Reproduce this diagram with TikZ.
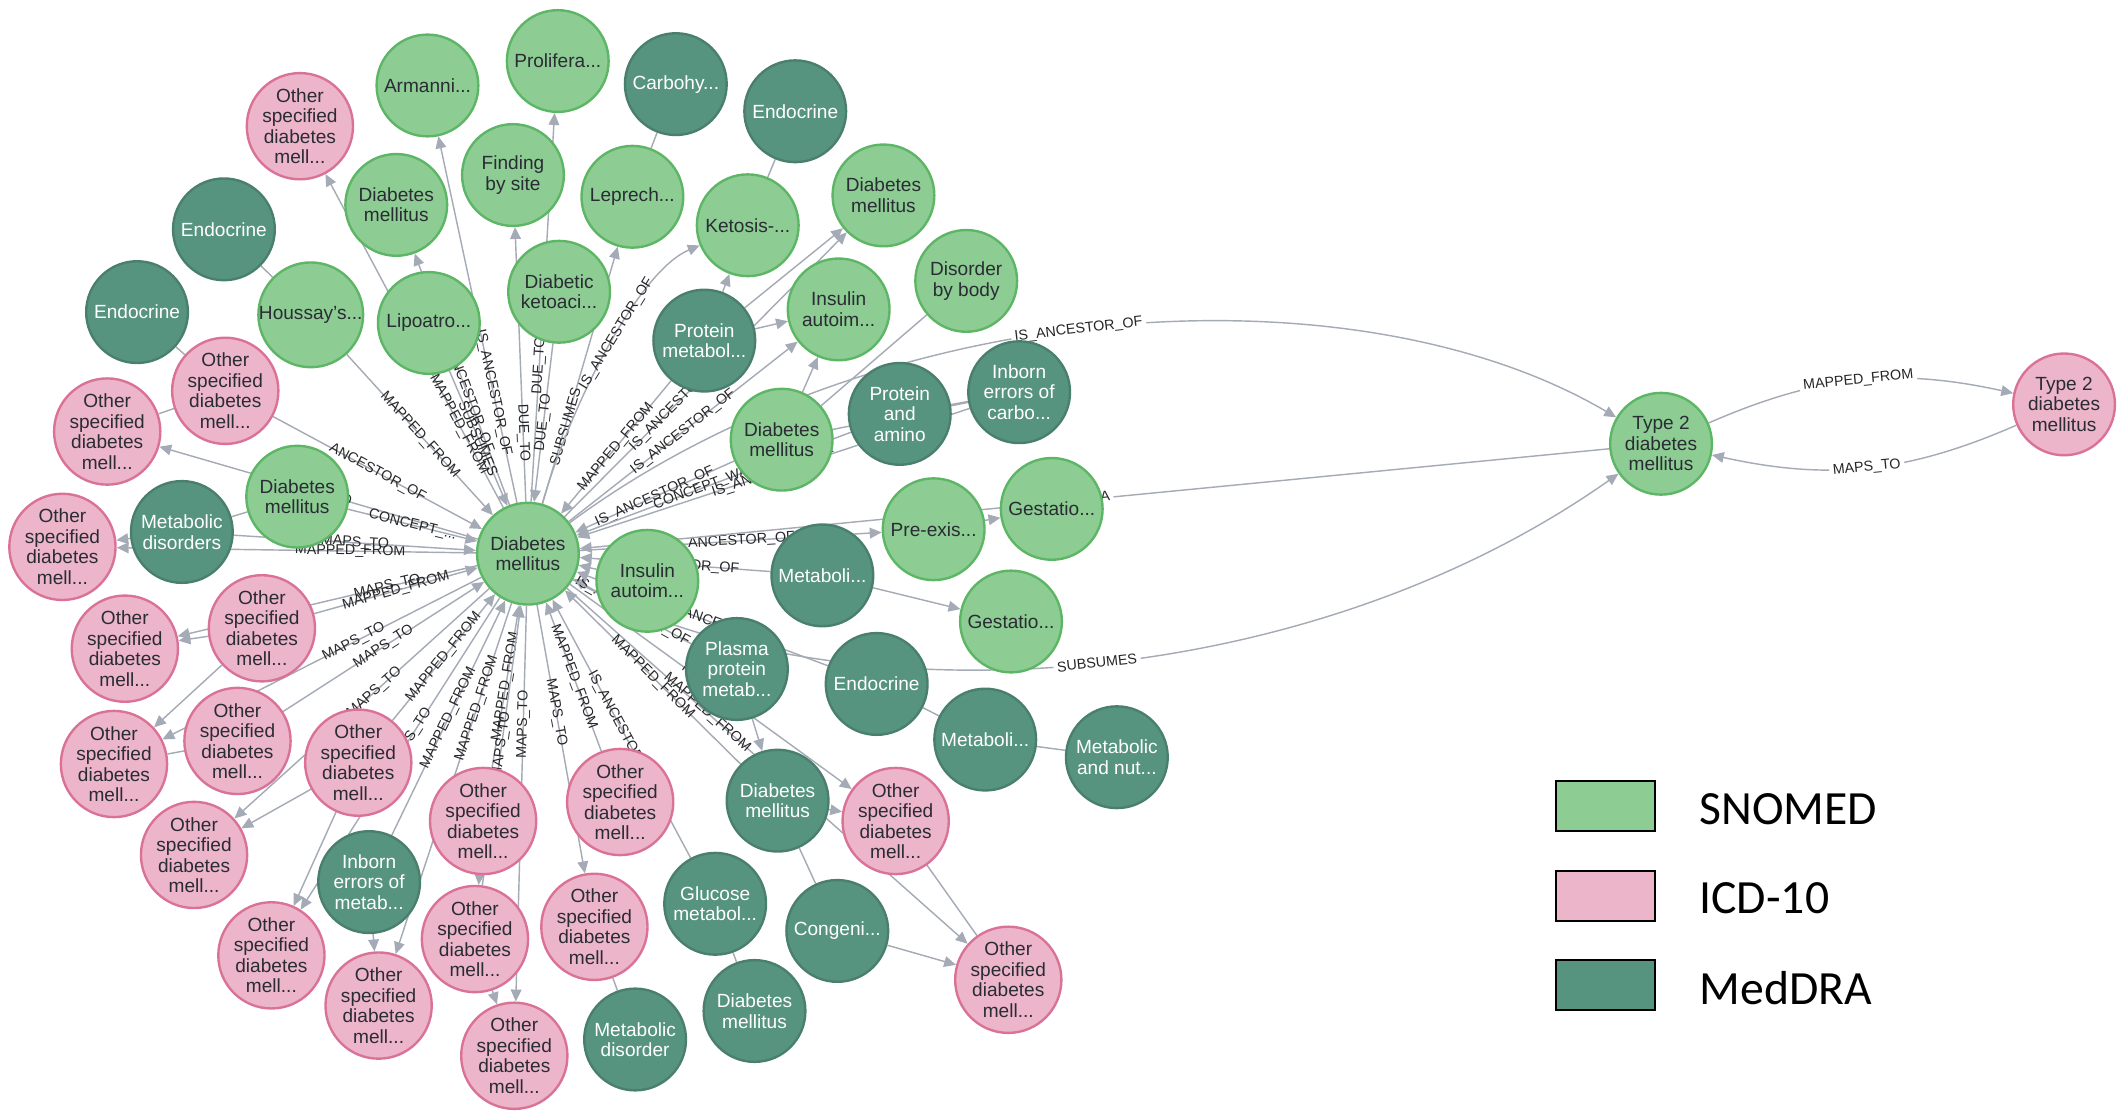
\documentclass[tikz,border=0pt]{standalone}
\usepackage{fontspec}
\setmainfont{Liberation Sans}
\newfontfamily\legendfont{Carlito}
\usetikzlibrary{arrows.meta}
\pgfdeclarelayer{background}
\pgfsetlayers{background,main}
\definecolor{snomedfill}{HTML}{8DCC93}
\definecolor{snomedline}{HTML}{5DB665}
\definecolor{icdfill}{HTML}{ECB5C9}
\definecolor{icdline}{HTML}{DA7298}
\definecolor{medfill}{HTML}{569480}
\definecolor{medline}{HTML}{4A7F6D}
\definecolor{edgegray}{HTML}{A5ABB6}
\definecolor{nodetext}{HTML}{2A2C34}
\begin{document}
\begin{tikzpicture}[x=0.02cm,y=-0.02cm,
  base/.style={circle, minimum size=1.5cm, inner sep=0pt, line width=1pt, align=center, font=\fontsize{8}{8.6}\selectfont},
  snomed/.style={base, draw=snomedline, fill=snomedfill, text=nodetext},
  icd/.style={base, draw=icdline, fill=icdfill, text=nodetext},
  meddra/.style={base, draw=medline, fill=medfill, text=white},
  edge/.style={draw=edgegray, line width=0.6pt},
  arr/.style={edge, -{Triangle[length=5pt,width=4.5pt]}},
  lbl/.style={font=\fontsize{6}{6}\selectfont, sloped, inner sep=0.5pt, text=black!85},
  wlbl/.style={lbl, fill=white, inner sep=1.5pt},
  legbox/.style={draw=black, line width=0.8pt, minimum width=1.46cm, minimum height=0.74cm, inner sep=0pt},
  legtext/.style={font=\legendfont\fontsize{20}{24}\selectfont, anchor=west, inner sep=0pt}
]
\useasboundingbox (0,0) rectangle (1560,820);
\def\osd{Other\\specified\\diabetes\\mell...}
% nodes
\node[icd] (n1) at (221,93) {\osd};
\node[snomed] (n2) at (315,63) {Armanni...};
\node[snomed] (n3) at (411,45) {Prolifera...};
\node[meddra] (n4) at (498,62) {Carbohy...};
\node[meddra] (n5) at (586,82) {Endocrine};
\node[snomed] (n6) at (292,151) {Diabetes\\mellitus};
\node[snomed] (n7) at (378,129) {Finding\\by site};
\node[snomed] (n8) at (466,145) {Leprech...};
\node[snomed] (n9) at (551,166) {Ketosis-...};
\node[snomed] (n10) at (651,144) {Diabetes\\mellitus};
\node[meddra] (n11) at (165,169) {Endocrine};
\node[meddra] (n12) at (101,230) {Endocrine};
\node[snomed] (n13) at (229,232) {Houssay's...};
\node[snomed] (n14) at (316,238) {Lipoatro...};
\node[snomed] (n15) at (412,215) {Diabetic\\ketoaci...};
\node[meddra] (n16) at (519,251) {Protein\\metabol...};
\node[snomed] (n17) at (618,228) {Insulin\\autoim...};
\node[snomed] (n18) at (712,207) {Disorder\\by body};
\node[icd] (n19) at (166,288) {\osd};
\node[icd] (n20) at (79,318) {\osd};
\node[snomed] (n21) at (576,324) {Diabetes\\mellitus};
\node[meddra] (n22) at (663,305) {Protein\\and\\amino};
\node[meddra] (n23) at (751,289) {Inborn\\errors of\\carbo...};
\node[snomed] (n24) at (219,366) {Diabetes\\mellitus};
\node[meddra] (n25) at (134,392) {Metabolic\\disorders};
\node[icd] (n26) at (46,403) {\osd};
\node[snomed] (C) at (389,408) {Diabetes\\mellitus};
\node[snomed] (n28) at (477,428) {Insulin\\autoim...};
\node[snomed] (n29) at (688,390) {Pre-exis...};
\node[snomed] (n30) at (775,375) {Gestatio...};
\node[meddra] (n31) at (606,424) {Metaboli...};
\node[snomed] (n32) at (745,458) {Gestatio...};
\node[icd] (n33) at (193,463) {\osd};
\node[icd] (n34) at (92,478) {\osd};
\node[meddra] (n35) at (543,493) {Plasma\\protein\\metab...};
\node[meddra] (n36) at (646,504) {Endocrine};
\node[icd] (n37) at (175,546) {\osd};
\node[icd] (n38) at (84,563) {\osd};
\node[icd] (n39) at (264,562) {\osd};
\node[meddra] (n40) at (726,545) {Metaboli...};
\node[meddra] (n41) at (823,558) {Metabolic\\and nut...};
\node[icd] (n42) at (143,630) {\osd};
\node[icd] (n43) at (457,591) {\osd};
\node[icd] (n44) at (356,605) {\osd};
\node[meddra] (n45) at (573,590) {Diabetes\\mellitus};
\node[icd] (n46) at (660,605) {\osd};
\node[meddra] (n47) at (272,650) {Inborn\\errors of\\metab...};
\node[meddra] (n48) at (527,666) {Glucose\\metabol...};
\node[meddra] (n49) at (617,686) {Congeni...};
\node[icd] (n50) at (200,704) {\osd};
\node[icd] (n51) at (350,692) {\osd};
\node[icd] (n52) at (438,683) {\osd};
\node[icd] (n53) at (743,722) {\osd};
\node[icd] (n54) at (279,741) {\osd};
\node[icd] (n55) at (379,778) {\osd};
\node[meddra] (n56) at (468,766) {Metabolic\\disorder};
\node[meddra] (n57) at (556,745) {Diabetes\\mellitus};
\node[snomed] (t2g) at (1224,327) {Type 2\\diabetes\\mellitus};
\node[icd] (t2p) at (1521,298) {Type 2\\diabetes\\mellitus};
% legend
\node[legbox, fill=snomedfill] (lg1) at (1183,594) {};
\node[legbox, fill=icdfill] (lg2) at (1183,660) {};
\node[legbox, fill=medfill] (lg3) at (1183,726) {};
\node[legtext] (lt1) at (1252,596) {SNOMED};
\node[legtext] (lt2) at (1252,662) {ICD-10};
\node[legtext] (lt3) at (1252,728) {MedDRA};
% edges
\begin{pgfonlayer}{background}
% center outward
\draw[arr] (C) -- node[lbl,pos=0.25]{MAPPED\_FROM} (n1);
\draw[arr] (C) -- node[lbl,pos=0.3]{IS\_ANCESTOR\_OF} (n2);
\draw[arr] (C) -- node[lbl,pos=0.35]{DUE\_TO} (n3);
\draw[arr] (C) -- node[lbl,pos=0.45]{IS\_ANCESTOR\_OF} (n6);
\draw[arr] (C) -- node[lbl,pos=0.25]{DUE\_TO} (n7);
\draw[arr] (C) -- node[lbl,pos=0.3]{SUBSUMES} (n8);
\draw[arr] (C) .. controls (420,300) and (470,200) .. node[lbl,pos=0.55]{IS\_ANCESTOR\_OF} (n9);
\draw[arr] (C) -- node[lbl,pos=0.4]{IS\_ANCESTOR\_OF} (n10);
\draw[arr] (C) -- node[lbl,pos=0.5]{IS\_ANCESTOR\_OF} (n17);
\draw[arr] (C) -- node[lbl,pos=0.5]{MAPS\_TO} (n20);
\draw[arr] (C) -- node[lbl,pos=0.35]{MAPPED\_FROM} (n26);
\draw[arr] (C) -- node[lbl,pos=0.3]{MAPS\_TO} (n34);
\draw[arr] (C) -- node[lbl,pos=0.4]{MAPS\_TO} (n38);
\draw[arr] (C) -- node[lbl,pos=0.45]{MAPS\_TO} (n42);
\draw[arr] (C) -- node[lbl,pos=0.45]{MAPS\_TO} (n50);
\draw[arr] (C) -- node[lbl,pos=0.5]{IS\_ANCESTOR\_OF} (n29);
\draw[arr] (C) -- node[lbl,pos=0.5]{MAPS\_TO} (n46);
\draw[arr] (C) -- node[lbl,pos=0.4]{MAPS\_TO} (n52);
\draw[arr] (C) -- node[lbl,pos=0.3]{MAPS\_TO} (n55);
\draw[arr] (C) -- node[lbl,pos=0.3]{MAPPED\_FROM} (n54);
\draw[arr] (C) -- node[lbl,pos=0.35]{MAPPED\_FROM} (n53);
% into center
\draw[arr] (n13) -- node[lbl]{MAPPED\_FROM} (C);
\draw[arr] (n14) -- node[lbl]{SUBSUMES} (C);
\draw[arr] (n15) -- node[lbl]{DUE\_TO} (C);
\draw[arr] (n16) -- node[lbl]{MAPPED\_FROM} (C);
\draw[arr] (n21) -- node[lbl]{IS\_ANCESTOR\_OF} (C);
\draw[arr] (n24) -- node[lbl]{CONCEPT\_...} (C);
\draw[arr] (n19) -- node[lbl]{ANCESTOR\_OF} (C);
\draw[arr] (n25) -- node[lbl]{MAPS\_TO} (C);
\draw[arr] (n28) -- (C);
\draw[arr] (n31) -- node[lbl]{IS\_ANCESTOR\_OF} (C);
\draw[arr] (n33) -- node[lbl]{MAPPED\_FROM} (C);
\draw[arr] (n37) -- node[lbl]{MAPS\_TO} (C);
\draw[arr] (n39) -- node[lbl]{MAPPED\_FROM} (C);
\draw[arr] (n44) -- node[lbl]{MAPPED\_FROM} (C);
\draw[arr] (n43) -- node[lbl]{MAPPED\_FROM} (C);
\draw[arr] (n35) -- node[lbl]{IS\_ANCESTOR\_OF} (C);
\draw[arr] (n45) -- node[lbl]{MAPPED\_FROM} (C);
\draw[arr] (n36) -- node[lbl]{IS\_ANCES...} (C);
\draw[arr] (n47) -- node[lbl]{MAPPED\_FROM} (C);
\draw[arr] (n48) -- node[lbl]{IS\_ANCESTOR\_OF} (C);
\draw[arr] (n51) -- node[lbl]{MAPS\_TO} (C);
\draw[arr] (n22) -- node[lbl]{CONCEPT\_WAS\_A} (C);
\draw[arr] (n23) -- node[lbl]{IS\_ANCESTOR\_OF} (C);
% type 2
\draw[arr] (C) .. controls (650,215) and (1000,195) .. node[wlbl,pos=0.47]{IS\_ANCESTOR\_OF} (t2g);
\draw[arr] (t2g) -- node[wlbl,pos=0.5]{IS\_A} (C);
\draw[arr] (C) .. controls (600,530) and (950,520) .. node[wlbl,pos=0.53]{SUBSUMES} (t2g);
\draw[arr] (t2g) to[bend left=18] node[wlbl]{MAPPED\_FROM} (t2p);
\draw[arr] (t2p) to[bend left=18] node[wlbl]{MAPS\_TO} (t2g);
% secondary
\draw[edge] (n5) -- (n9);
\draw[edge] (n4) -- (n8);
\draw[edge] (n11) -- (n13);
\draw[edge] (n12) -- (n19);
\draw[arr] (n16) -- (n17);
\draw[arr] (n16) -- (n9);
\draw[arr] (n16) -- (n10);
\draw[arr] (n21) -- (n17);
\draw[edge] (n18) -- (n21);
\draw[edge] (n21) -- (n23);
\draw[edge] (n22) -- (n23);
\draw[arr] (n25) -- (n26);
\draw[edge] (n25) -- (n24);
\draw[edge] (n19) -- (n20);
\draw[arr] (n33) -- (n34);
\draw[arr] (n33) -- (n38);
\draw[edge] (n37) -- (n38);
\draw[arr] (n39) -- (n42);
\draw[arr] (n39) -- (n50);
\draw[arr] (n47) -- (n54);
\draw[arr] (n44) -- (n51);
\draw[arr] (n51) -- (n55);
\draw[arr] (n35) -- (n45);
\draw[arr] (n45) -- (n46);
\draw[arr] (n49) -- (n53);
\draw[edge] (n48) -- (n57);
\draw[edge] (n52) -- (n56);
\draw[edge] (n45) -- (n49);
\draw[edge] (n46) -- (n53);
\draw[edge] (n36) -- (n40);
\draw[edge] (n40) -- (n41);
\draw[arr] (n29) -- (n30);
\draw[arr] (n31) -- (n32);
\end{pgfonlayer}
\end{tikzpicture}
\end{document}
